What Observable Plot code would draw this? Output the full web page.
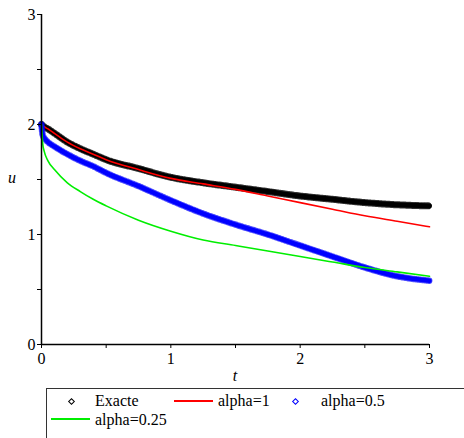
<!DOCTYPE html>
<html>
<head>
<meta charset="utf-8">
<script src="https://cdn.jsdelivr.net/npm/d3@7"></script>
<script src="https://cdn.jsdelivr.net/npm/@observablehq/plot@0.6"></script>
<style>
  html, body { margin: 0; padding: 0; background: #fff; }
  #wrap { position: relative; width: 464px; height: 438px; overflow: hidden; font-family: "Times New Roman", Times, serif; }
  #legend { position: absolute; left: 46px; top: 388px; width: 440px; height: 60px; border: 1px solid #333; box-sizing: border-box; }
  .item { position: absolute; font-size: 16px; line-height: 16px; color: #000; white-space: nowrap; font-family: "Times New Roman", Times, serif; }
  .sw { position: absolute; }
  svg text { font-family: "Times New Roman", Times, serif; }
</style>
</head>
<body>
<div id="wrap"><div id="chart"></div><div id="legend"></div></div>
<script>
const tValues = [0, 0.01, 0.02, 0.05, 0.1, 0.2, 0.3, 0.4, 0.5, 0.75, 1.0, 1.25, 1.5, 1.75, 2.0, 2.25, 2.5, 2.75, 3.0];
const exacte  = [2.00, 1.99, 1.98, 1.96, 1.92, 1.84, 1.78, 1.73, 1.68, 1.60, 1.52, 1.47, 1.43, 1.39, 1.35, 1.32, 1.29, 1.27, 1.26];
const alpha1  = [2.00, 1.99, 1.98, 1.96, 1.92, 1.84, 1.78, 1.73, 1.68, 1.59, 1.51, 1.46, 1.41, 1.35, 1.29, 1.23, 1.17, 1.12, 1.07];
const alpha05 = [2.00, 1.90, 1.88, 1.84, 1.80, 1.73, 1.67, 1.62, 1.56, 1.44, 1.31, 1.19, 1.09, 1.00, 0.90, 0.80, 0.70, 0.62, 0.58];
const alpha025= [2.00, 1.82, 1.76, 1.67, 1.59, 1.47, 1.39, 1.32, 1.26, 1.13, 1.03, 0.95, 0.90, 0.85, 0.80, 0.75, 0.70, 0.66, 0.62];
const seriesNames = ["Exacte", "alpha=1", "alpha=0.5", "alpha=0.25"];
const seriesColors = ["#000000", "#ff0000", "#0000ff", "#00ee00"];
const xTicks = [0, 0.5, 1, 1.5, 2, 2.5, 3];
const yTicks = [0, 0.5, 1, 1.5, 2, 2.5, 3];
const xLabel = "t";
const yLabel = "u";

const mk = (arr) => tValues.map((t, i) => ({t, u: arr[i]}));
const dEx = mk(exacte), dA1 = mk(alpha1), dA05 = mk(alpha05), dA025 = mk(alpha025);
const fmt = d => Number.isInteger(d) ? String(d) : "";
const FONT = "Times New Roman, Times, serif";

const W = 464, H = 386;
const plot = Plot.plot({
  width: W, height: H,
  marginLeft: 41, marginRight: 35, marginTop: 14, marginBottom: 42,
  style: {fontFamily: FONT, fontSize: "16px", color: "#000", background: "#fff"},
  x: {domain: [0, 3]},
  y: {domain: [0, 3]},
  marks: [
    Plot.line(dEx, {x: "t", y: "u", stroke: seriesColors[0], strokeWidth: 5, curve: "monotone-x"}),
    Plot.line(dEx, {x: "t", y: "u", stroke: "#000", strokeWidth: 7, strokeDasharray: "1,2", strokeOpacity: 0.8, curve: "monotone-x"}),
    Plot.line(dA1, {x: "t", y: "u", stroke: seriesColors[1], strokeWidth: 1.6, curve: "monotone-x"}),
    Plot.line(dA05, {x: "t", y: "u", stroke: seriesColors[2], strokeWidth: 4.5, curve: "monotone-x"}),
    Plot.line(dA05, {x: "t", y: "u", stroke: seriesColors[2], strokeWidth: 6.5, strokeDasharray: "1,2", strokeOpacity: 0.7, curve: "monotone-x"}),
    Plot.line(dA025, {x: "t", y: "u", stroke: seriesColors[3], strokeWidth: 1.6, curve: "monotone-x"}),
    Plot.ruleX([0], {stroke: "#000", strokeWidth: 1.5}),
    Plot.ruleY([0], {stroke: "#000", strokeWidth: 1.5}),
    Plot.axisX({ticks: xTicks, tickFormat: fmt, tickSize: 4, tickPadding: 4, label: null, fontSize: 16, fontFamily: FONT}),
    Plot.axisY({ticks: yTicks, tickFormat: fmt, tickSize: 4, tickPadding: 2, label: null, fontSize: 16, fontFamily: FONT})
  ]
});
document.getElementById("chart").appendChild(plot);

const sx = plot.scale("x"), sy = plot.scale("y");
const svg = d3.select(plot);
svg.append("text").attr("x", sx.apply(1.5)).attr("y", H - 5)
  .attr("text-anchor", "middle").attr("font-style", "italic").attr("font-size", 16).attr("font-family", FONT).text(xLabel);
svg.append("text").attr("x", 12).attr("y", sy.apply(1.5) + 4)
  .attr("text-anchor", "middle").attr("font-style", "italic").attr("font-size", 16).attr("font-family", FONT).text(yLabel);

// Legend
const leg = document.getElementById("legend");
const items = [
  {kind: "dot", col: seriesColors[0], sx: 24, sy: 12, tx: 48, ty: 4, name: seriesNames[0]},
  {kind: "line", col: seriesColors[1], sx: 127, sy: 11, tx: 171, ty: 4, name: seriesNames[1]},
  {kind: "dot", col: seriesColors[2], sx: 248, sy: 12, tx: 274, ty: 4, name: seriesNames[2]},
  {kind: "line", col: seriesColors[3], sx: 4, sy: 29, tx: 48, ty: 23, name: seriesNames[3]}
];
for (const it of items) {
  const s = document.createElement("div");
  s.className = "sw";
  if (it.kind === "line") {
    s.style.left = it.sx + "px"; s.style.top = it.sy + "px";
    s.style.width = "39px"; s.style.height = "1.5px"; s.style.background = it.col;
  } else {
    s.style.left = (it.sx - 2) + "px"; s.style.top = (it.sy - 2) + "px";
    s.style.width = "3px"; s.style.height = "3px";
    s.style.border = "1.2px solid " + it.col; s.style.transform = "rotate(45deg)";
  }
  leg.appendChild(s);
  const t = document.createElement("div");
  t.className = "item";
  t.style.left = it.tx + "px"; t.style.top = it.ty + "px";
  t.textContent = it.name;
  leg.appendChild(t);
}
</script>
</body>
</html>
